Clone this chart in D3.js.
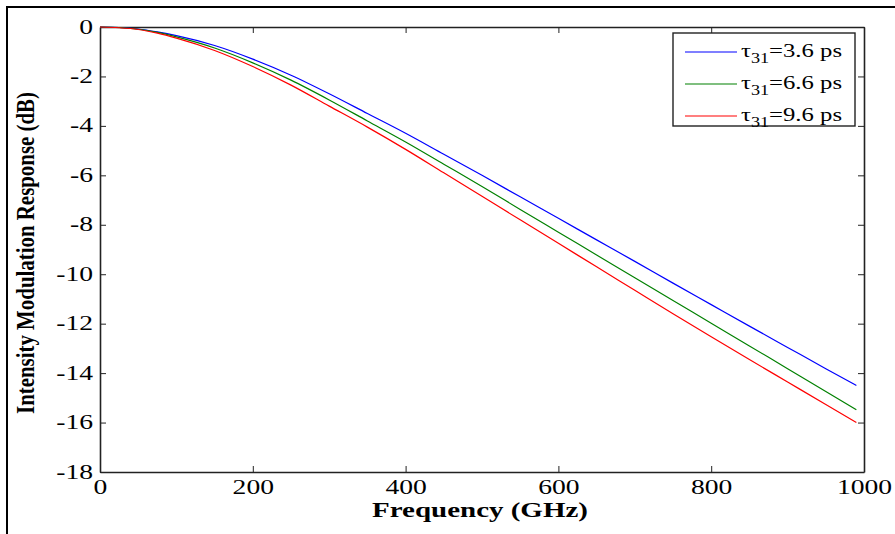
<!DOCTYPE html>
<html>
<head>
<meta charset="utf-8">
<script src="https://cdn.jsdelivr.net/npm/d3@7"></script>
<style>
  html, body { margin: 0; padding: 0; background: #fff; }
  svg { display: block; }
  text { font-family: "Liberation Serif", "Times New Roman", serif; fill: #000; }
</style>
</head>
<body>
<svg id="chart" width="895" height="534"></svg>
<script>
// Frequency samples (GHz)
const freq = [0, 25, 50, 75, 100, 150, 200, 250, 300, 350, 400, 450, 500, 550, 600, 650, 700, 750, 800, 850, 900, 950, 990];

// Intensity modulation response (dB) for each tau_31
const resp36 = [0, -0.02, -0.08, -0.2, -0.35, -0.75, -1.3, -1.95, -2.7, -3.5, -4.3, -5.15, -6.0, -6.87, -7.74, -8.61, -9.48, -10.36, -11.23, -12.1, -12.96, -13.82, -14.5];
const resp66 = [0, -0.02, -0.09, -0.22, -0.4, -0.85, -1.45, -2.15, -2.95, -3.8, -4.65, -5.55, -6.45, -7.38, -8.3, -9.22, -10.14, -11.06, -11.98, -12.9, -13.82, -14.74, -15.48];
const resp96 = [0, -0.03, -0.1, -0.25, -0.45, -0.95, -1.6, -2.35, -3.2, -4.05, -4.95, -5.9, -6.85, -7.8, -8.75, -9.7, -10.65, -11.6, -12.53, -13.45, -14.36, -15.27, -16.0];

const seriesNames = ["3.6", "6.6", "9.6"];
const seriesColors = ["#0000ff", "#008000", "#ff0000"];

const xTicks = [0, 200, 400, 600, 800, 1000];
const yTicks = [0, -2, -4, -6, -8, -10, -12, -14, -16, -18];

const svg = d3.select("#chart");
const plot = { left: 100, top: 27, right: 864, bottom: 472 };
const stretch = 1.38; // horizontal widening of the serif lettering

// outer figure frame
svg.append("rect")
  .attr("x", 7).attr("y", 7).attr("width", 950).attr("height", 650)
  .attr("fill", "none").attr("stroke", "#000").attr("stroke-width", 2);

const x = d3.scaleLinear().domain([0, 1000]).range([plot.left, plot.right]);
const y = d3.scaleLinear().domain([-18, 0]).range([plot.bottom, plot.top]);

const tickLen = 6;
const axisColor = "#222";
const fmt = d => String(d);

const gx = svg.append("g").attr("transform", `translate(0,${plot.bottom})`)
  .call(d3.axisBottom(x).tickValues(xTicks).tickSizeInner(-tickLen).tickSizeOuter(0).tickFormat(fmt));
const gxt = svg.append("g").attr("transform", `translate(0,${plot.top})`)
  .call(d3.axisTop(x).tickValues(xTicks).tickSizeInner(-tickLen).tickSizeOuter(0).tickFormat(""));
const gy = svg.append("g").attr("transform", `translate(${plot.left},0)`)
  .call(d3.axisLeft(y).tickValues(yTicks).tickSizeInner(-tickLen).tickSizeOuter(0).tickFormat(fmt));
const gyr = svg.append("g").attr("transform", `translate(${plot.right},0)`)
  .call(d3.axisRight(y).tickValues(yTicks).tickSizeInner(-tickLen).tickSizeOuter(0).tickFormat(""));

[gx, gxt, gy, gyr].forEach(g => {
  g.select(".domain").attr("stroke", axisColor).attr("stroke-width", 1.6);
  g.selectAll(".tick line").attr("stroke", axisColor).attr("stroke-width", 1);
});

// tick labels: serif, widened
gx.selectAll(".tick text")
  .attr("font-family", "Liberation Serif, serif").attr("font-size", 20).attr("fill", "#000")
  .attr("x", 0).attr("y", 0).attr("dy", null)
  .attr("text-anchor", "middle")
  .attr("transform", `translate(0,22) scale(${stretch},1)`);
gy.selectAll(".tick text")
  .attr("font-family", "Liberation Serif, serif").attr("font-size", 20).attr("fill", "#000")
  .attr("x", 0).attr("y", 0).attr("dy", null)
  .attr("text-anchor", "end")
  .attr("transform", `translate(-7,6) scale(${stretch},1)`);

// response curves
const allSeries = [resp36, resp66, resp96];
const line = d3.line().x((d, i) => x(freq[i])).y(d => y(d)).curve(d3.curveMonotoneX);
allSeries.forEach((vals, k) => {
  svg.append("path")
    .datum(vals)
    .attr("d", line)
    .attr("fill", "none")
    .attr("stroke", seriesColors[k])
    .attr("stroke-width", 1.2);
});

// axis titles
svg.append("text")
  .attr("transform", `translate(${(plot.left + plot.right) / 2 - 2},517) scale(${stretch},1)`)
  .attr("text-anchor", "middle")
  .attr("font-size", 21).attr("font-weight", "bold")
  .text("Frequency (GHz)");

svg.append("text")
  .attr("transform", `translate(34,253) rotate(-90) scale(1,${stretch})`)
  .attr("text-anchor", "middle")
  .attr("font-size", 19).attr("font-weight", "bold")
  .attr("textLength", 322).attr("lengthAdjust", "spacingAndGlyphs")
  .text("Intensity Modulation Response (dB)");

// legend
const lg = svg.append("g");
lg.append("rect")
  .attr("x", 673).attr("y", 33).attr("width", 182).attr("height", 93)
  .attr("fill", "#fff").attr("stroke", "#222").attr("stroke-width", 1.4);
seriesNames.forEach((name, k) => {
  const ly = 52 + k * 32;
  lg.append("line")
    .attr("x1", 685).attr("x2", 737).attr("y1", ly).attr("y2", ly)
    .attr("stroke", seriesColors[k]).attr("stroke-width", 1.2);
  const t = lg.append("text")
    .attr("transform", `translate(741,${ly + 5}) scale(1.3,1)`)
    .attr("font-size", 19);
  t.append("tspan").text("τ");
  t.append("tspan").attr("dy", 6).attr("font-size", 14).text("31");
  t.append("tspan").attr("dy", -6).text(`=${name} ps`);
});
</script>
</body>
</html>
